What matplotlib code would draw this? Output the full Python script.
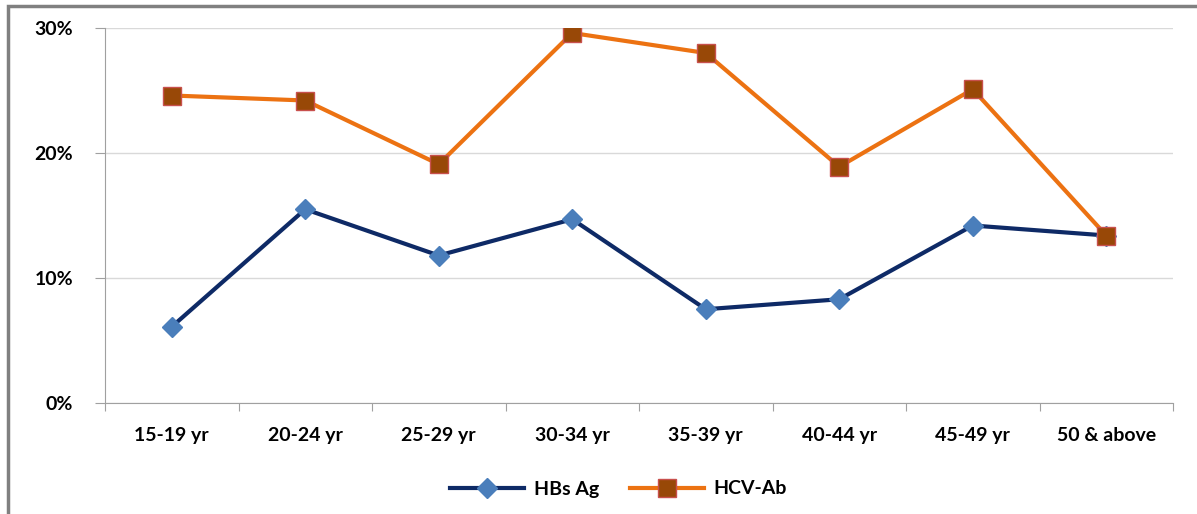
import matplotlib
matplotlib.use("Agg")
import matplotlib.pyplot as plt
from matplotlib.patches import Rectangle
from matplotlib.ticker import FuncFormatter, FixedLocator
import numpy as np

plt.rcParams['font.family'] = ['Lato', 'DejaVu Sans']

age_groups = ["15-19 yr", "20-24 yr", "25-29 yr", "30-34 yr",
              "35-39 yr", "40-44 yr", "45-49 yr", "50 & above"]
hbs_ag = [6.1, 15.5, 11.8, 14.7, 7.5, 8.3, 14.2, 13.4]
hcv_ab = [24.6, 24.2, 19.1, 29.6, 28.0, 18.9, 25.1, 13.4]
y_ticks = [0, 10, 20, 30]

W, H = 1197, 514
fig = plt.figure(figsize=(W / 100, H / 100), dpi=100)
ax = fig.add_axes([105 / W, 1 - 403 / H, (1173 - 105) / W, (403 - 28) / H])

x = np.arange(len(age_groups))
ax.plot(x, hbs_ag, color="#0E2A66", lw=3, marker="D", markersize=10,
        markerfacecolor="#4A7EBB", markeredgecolor="#4A7EBB", label="HBs Ag", zorder=3)
ax.plot(x, hcv_ab, color="#EC7212", lw=3, marker="s", markersize=13,
        markerfacecolor="#984807", markeredgecolor="#C8504D", markeredgewidth=1,
        label="HCV-Ab", zorder=3)

ax.set_xlim(-0.5, len(age_groups) - 0.5)
ax.set_ylim(0, 30)
ax.set_yticks(y_ticks)
ax.yaxis.set_major_formatter(FuncFormatter(lambda v, p: f"{v:.0f}%"))
ax.grid(axis="y", color="#D9D9D9", lw=1)
ax.set_axisbelow(True)

ax.xaxis.set_major_locator(FixedLocator(np.arange(len(age_groups) + 1) - 0.5))
ax.xaxis.set_minor_locator(FixedLocator(x))
ax.set_xticklabels([])
ax.set_xticklabels(age_groups, minor=True)
ax.tick_params(axis="x", which="major", length=6, color="#A0A0A0", direction="out")
ax.tick_params(axis="x", which="minor", length=0, pad=17, labelsize=14)
ax.tick_params(axis="y", length=7, color="#A0A0A0", pad=16, labelsize=14)
for lbl in ax.get_xticklabels(minor=True) + ax.get_yticklabels():
    lbl.set_fontweight("bold")

for s in ["top", "right"]:
    ax.spines[s].set_visible(False)
for s in ["left", "bottom"]:
    ax.spines[s].set_color("#A0A0A0")

ax.legend(loc="upper center", bbox_to_anchor=(0.481, -0.16), ncol=2, frameon=False,
          prop={"weight": "bold", "size": 14}, handlelength=3.8, handletextpad=0.5,
          columnspacing=1.6)

# partial outer frame, as in the original
fig.patches.append(Rectangle((8 / W, -0.1), 1.2, 1 - 6 / H + 0.1, transform=fig.transFigure,
                             fill=False, edgecolor="#808080", lw=2.5))

fig.savefig("out.png", dpi=100)
